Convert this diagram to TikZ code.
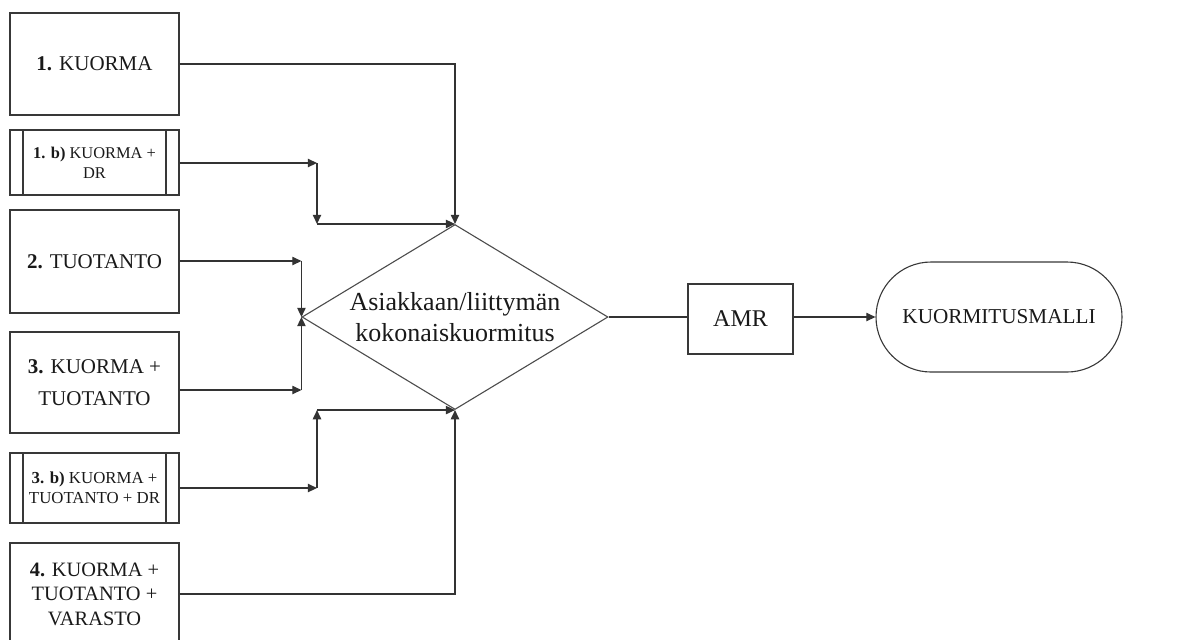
\documentclass[tikz,border=0pt]{standalone}
\usepackage{fontspec}
\setmainfont{Liberation Serif}
\usetikzlibrary{arrows.meta}
\usetikzlibrary{shapes.geometric}

\begin{document}
\begin{tikzpicture}[x=0.5pt,y=-0.5pt,->,>={Triangle[length=4.6pt,width=4.2pt]}]
			\tikzset{box/.style = {shape=rectangle, draw=black!78, line width=0.55pt, text=black!90, align=center, minimum width=84.5pt, inner sep=0pt},
				stripes/.style = {path picture={
					\draw[-,black!78,line width=0.55pt] ([xshift=6.5pt]path picture bounding box.north west) -- ([xshift=6.5pt]path picture bounding box.south west);
					\draw[-,black!78,line width=0.55pt] ([xshift=-6.5pt]path picture bounding box.north east) -- ([xshift=-6.5pt]path picture bounding box.south east);}},
				conn/.style = {draw=black!80, line width=0.6pt}}
			
			\useasboundingbox (0,0) rectangle (1186,639);
			\clip (0,0) rectangle (1186,639);
			
			\node[box, minimum height=51pt, font=\fontsize{10.5}{13}\selectfont] (KUORMA) at (94.5,64) {\textbf{1.} KUORMA};
			\node[box, stripes, minimum height=32.5pt, font=\fontsize{8.2}{10}\selectfont] (KUORMADR) at (94.5,162.5) {\textbf{1. b)} KUORMA +\\DR};
			\node[box, minimum height=51.5pt, font=\fontsize{10.5}{13}\selectfont] (TUOTANTO) at (94.5,261.5) {\textbf{2.} TUOTANTO};
			\node[box, minimum height=50.5pt, font=\fontsize{10.5}{15.8}\selectfont] (KT) at (94.5,382.5) {\textbf{3.} KUORMA +\\TUOTANTO};
			\node[box, stripes, minimum height=35pt, font=\fontsize{8.4}{10}\selectfont] (KTDR) at (94.5,488) {\textbf{3. b)} KUORMA +\\TUOTANTO + DR};
			\node[box, minimum height=51pt, font=\fontsize{10.2}{12.3}\selectfont] (KTV) at (94.5,594) {\textbf{4.} KUORMA +\\TUOTANTO +\\VARASTO};
			
			\node[shape=diamond, draw=black!70, line width=0.55pt, text=black!90, align=center, inner sep=0pt, shape aspect=1.65, minimum width=153pt, minimum height=92.5pt, font=\fontsize{13}{15.8}\selectfont] (ASIAKAS) at (455,317) {Asiakkaan/liittymän\\kokonaiskuormitus};
			\node[box, minimum width=52.5pt, minimum height=35pt, font=\fontsize{12}{14}\selectfont] (AMR) at (740.5,319) {AMR};
			\node[box, rounded corners=27.5pt, minimum width=123pt, minimum height=55pt, font=\fontsize{10.6}{13}\selectfont] (MALLI) at (999,317) {KUORMITUSMALLI};
			
			\coordinate (J1) at (317,163);
			\coordinate (J1b) at (J1 |- ASIAKAS.north);
			\coordinate (J2) at (ASIAKAS.west |- 0,261);
			\coordinate (J3) at (ASIAKAS.west |- 0,390);
			\coordinate (J4) at (317,488);
			\coordinate (J4b) at (J4 |- ASIAKAS.south);
			
			\draw[conn] (KUORMA) -| (ASIAKAS.north);
			\draw[conn] (KUORMADR.east |- J1) -- (J1);
			\draw[conn] (J1) -- (J1b);
			\draw[conn] (J1b) -- (ASIAKAS.north);
			\draw[conn] (TUOTANTO.east |- J2) -- (J2);
			\draw[conn] (J2) -- (ASIAKAS.west);
			\draw[conn] (KT.east |- J3) -- (J3);
			\draw[conn] (J3) -- (ASIAKAS.west);
			\draw[conn] (KTDR.east |- J4) -- (J4);
			\draw[conn] (J4) -- (J4b);
			\draw[conn] (J4b) -- (ASIAKAS.south);
			\draw[conn] (KTV) -| (ASIAKAS.south);
			\draw[conn,-] (ASIAKAS.east) -- (AMR.west |- ASIAKAS.east);
			\draw[conn] (AMR.east |- MALLI.west) -- (MALLI.west);
			
			\end{tikzpicture}
\end{document}
